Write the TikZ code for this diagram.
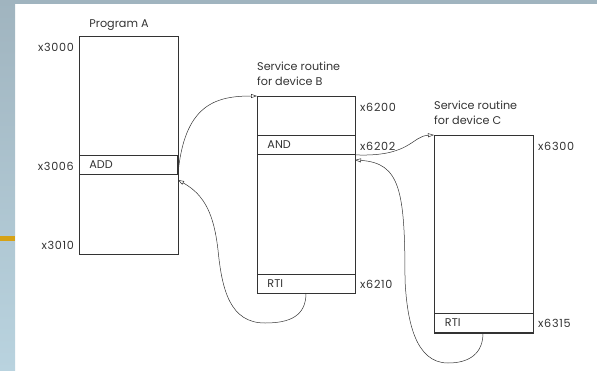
\documentclass[tikz,border=0pt]{standalone}
\usepackage{fontspec}
\setmainfont{Poppins}
\newfontfamily\addrfont[LetterSpace=6]{Poppins}
\usetikzlibrary{arrows.meta}
\definecolor{ink}{HTML}{333333}
\definecolor{frametop}{HTML}{A0B4BF}
\definecolor{framebot}{HTML}{B9D3DF}
\definecolor{accent}{HTML}{D6A216}
\tikzset{
  memblock/.style={draw=ink, line width=0.9pt, inner sep=0pt, anchor=north west},
  instr/.style={draw=ink, line width=0.9pt, inner ysep=0pt, inner xsep=10pt,
    text width=78pt, minimum width=98pt, minimum height=19pt, align=left,
    anchor=north west, font=\fontsize{11.2}{12}\selectfont, text=ink},
  addr/.style={font=\addrfont\fontsize{11.2}{12}\selectfont, text=ink, inner sep=0pt},
  title/.style={font=\fontsize{11.2}{15}\selectfont, text=ink, align=left, inner sep=0pt},
  link/.style={draw=ink, line width=0.5pt,
    -{Triangle[open, length=6pt, width=4pt]}}
}
\begin{document}
\begin{tikzpicture}[x=1pt, y=-1pt]
\useasboundingbox (0,0) rectangle (597,370);
% slide frame
\fill[frametop] (0,0) rectangle (597,4);
\shade[top color=frametop, bottom color=framebot] (0,0) rectangle (15,370);
\fill[accent] (0,236) rectangle (15,241);

% Program A
\node[title, anchor=base] (tA) at (119,27) {Program A};
\node[memblock, minimum width=99pt, minimum height=218pt] (A) at (79,36) {};
\node[instr] (Aadd) at (79,155) {ADD};
\node[addr, anchor=base east] (a3000) at (74,51) {x3000};
\node[addr, anchor=base east] (a3006) at (74,170) {x3006};
\node[addr, anchor=base east] (a3010) at (74,249) {x3010};

% Service routine B
\node[title, anchor=north west] (tB) at (257,61.5) {Service routine\\for device B};
\node[memblock, minimum width=98pt, minimum height=197pt] (B) at (257,96) {};
\node[instr] (Band) at (257,135) {AND};
\node[instr] (Brti) at (257,274) {RTI};
\node[addr, anchor=base west] (a6200) at (360,111) {x6200};
\node[addr, anchor=base west] (a6202) at (360,150) {x6202};
\node[addr, anchor=base west] (a6210) at (360,288) {x6210};

% Service routine C
\node[title, anchor=north west] (tC) at (434,101) {Service routine\\for device C};
\node[memblock, minimum width=99pt, minimum height=198pt] (C) at (434,135) {};
\node[instr, minimum width=99pt] (Crti) at (434,313) {RTI};
\node[addr, anchor=base west] (a6300) at (538,150) {x6300};
\node[addr, anchor=base west] (a6315) at (538,327) {x6315};

% control transfers
\coordinate (retA) at (178,180);
\coordinate (retB) at (355,160);
\coordinate (rtiB) at (306,293);
\coordinate (rtiC) at (483,333);
\draw[link] (Aadd.south east) .. controls (184,105) and (215,96) .. (B.north west);
\draw[link] (rtiB) .. controls (306,316) and (290,323) .. (265,323)
  .. controls (230,323) and (222,290) .. (218,250)
  .. controls (214,215) and (205,195) .. (retA);
\draw[link] (Band.south east) .. controls (410,157) and (412,136) .. (C.north west);
\draw[link] (rtiC) .. controls (483,353) and (470,363) .. (448,363)
  .. controls (415,363) and (407,320) .. (405,280)
  .. controls (405,190) and (400,163) .. (retB);
\end{tikzpicture}
\end{document}
